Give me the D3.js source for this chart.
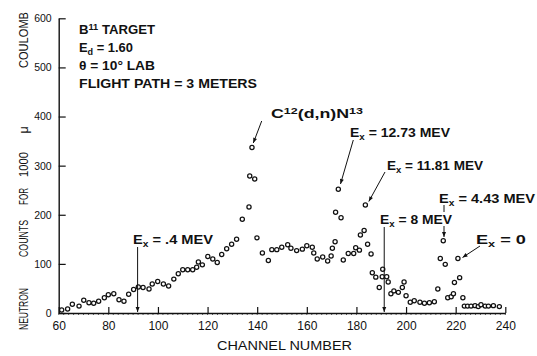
<!DOCTYPE html>
<html>
<head>
<meta charset="utf-8">
<script src="https://cdn.jsdelivr.net/npm/d3@7"></script>
<style>
  html, body { margin: 0; padding: 0; background: #fff; }
  svg { display: block; }
  text { font-family: "Liberation Sans", Arial, sans-serif; fill: #111; }
</style>
</head>
<body>
<svg id="chart" width="537" height="356"></svg>
<script>
// ---------- data ----------
const channels = [61.2,63.6,65.5,68.2,70.1,72.2,74.1,76.1,78.4,80.0,
  82.2,84.3,86.3,88.2,90.2,92.1,94.0,96.4,97.7,99.9,
  102.2,104.3,106.4,108.2,110.0,112.0,114.0,115.6,116.3,117.9,
  120.1,122.1,123.9,125.7,127.7,129.7,131.7,134.0,136.7,137.0,
  137.9,139.0,139.9,142.1,144.5,145.9,147.9,149.9,152.3,153.6,
  155.9,158.2,160.0,162.2,162.8,164.2,166.4,168.4,169.8,170.3,
  171.4,171.6,172.7,173.8,174.7,176.7,178.9,179.7,181.2,181.6,
  183.1,183.6,184.5,185.9,186.4,187.8,189.2,190.4,190.6,192.2,
  192.8,193.9,195.1,196.9,198.5,199.2,200.0,201.7,203.3,205.6,
  207.4,209.4,211.4,212.8,213.8,215.0,215.8,216.8,218.2,219.1,
  219.5,220.9,221.6,222.9,223.5,224.8,226.2,227.8,229.1,230.2,
  231.9,233.2,235.2,237.6];
const counts = [6,8,18,14,26,21,20,24,31,37,
  39,27,24,38,48,53,52,49,59,64,
  59,55,69,80,88,88,88,93,104,98,
  115,110,103,119,131,140,150,191,216,279,
  337,273,153,122,107,129,129,134,139,132,
  127,130,137,134,122,110,114,106,116,132,
  145,205,252,194,108,121,121,133,128,159,
  168,220,140,120,82,73,52,74,89,74,
  63,39,45,42,52,63,35,22,25,22,
  20,21,23,49,111,147,99,31,33,39,
  62,111,72,31,14,14,14,15,13,17,
  14,14,15,13];
const xTicks = [60,80,100,120,140,160,180,200,220,240];
const yTicks = [0,100,200,300,400,500,600];
const xTitle = "CHANNEL NUMBER";
const yTitleWords = ["NEUTRON","COUNTS","FOR","1000","\u03BC","COULOMB"];

// ---------- layout ----------
const svg = d3.select("#chart");
svg.append("rect").attr("width",537).attr("height",356).attr("fill","#fff");

const x = d3.scaleLinear().domain([60,240]).range([58.7,505.3]);
const y = d3.scaleLinear().domain([0,600]).range([313,18.3]);

// minor ticks on x axis
svg.append("g").selectAll("line").data(d3.range(60,241,2)).join("line")
  .attr("x1",d=>x(d)).attr("x2",d=>x(d)).attr("y1",y(0)).attr("y2",y(0)+2)
  .attr("stroke","#222").attr("stroke-width",0.7);

const gx = svg.append("g").attr("transform",`translate(0,${y(0)})`)
  .call(d3.axisBottom(x).tickValues(xTicks).tickSizeInner(-6).tickSizeOuter(0).tickPadding(8));
gx.select(".domain").attr("stroke","#111").attr("stroke-width",1.6);
gx.selectAll(".tick line").attr("stroke","#111").attr("stroke-width",1.2);
gx.selectAll(".tick text").attr("font-size",12).attr("font-family","Liberation Sans, Arial, sans-serif").attr("fill","#111");

const gy = svg.append("g").attr("transform",`translate(${x(60)},0)`)
  .call(d3.axisLeft(y).tickValues(yTicks).tickSizeInner(-7).tickSizeOuter(0).tickPadding(7));
gy.select(".domain").attr("stroke","#111").attr("stroke-width",1.4);
gy.selectAll(".tick line").attr("stroke","#111").attr("stroke-width",1.2);
gy.selectAll(".tick text").attr("font-size",10.5).attr("font-family","Liberation Sans, Arial, sans-serif").attr("fill","#111");

// axis titles
svg.append("text").attr("x",284.5).attr("y",350).attr("text-anchor","middle")
  .attr("font-size",12).attr("textLength",135).attr("lengthAdjust","spacingAndGlyphs")
  .text(xTitle);

const yWordPos = [[309,42],[238.5,37],[196.5,17],[164.5,25],[130,7],[40,56]];
yTitleWords.forEach((w,i)=>{
  const [cy,len] = yWordPos[i];
  const t = svg.append("text").attr("transform",`translate(27.5,${cy}) rotate(-90)`)
    .attr("text-anchor","middle").attr("font-size",12.5).text(w);
  if (w.length>1) t.attr("textLength",len).attr("lengthAdjust","spacingAndGlyphs");
});

// data points
svg.append("g").selectAll("circle").data(channels.map((c,i)=>[c,counts[i]])).join("circle")
  .attr("cx",d=>x(d[0])).attr("cy",d=>y(d[1])).attr("r",2.1)
  .attr("fill","#fff").attr("stroke","#111").attr("stroke-width",1.25);

// ---------- annotations ----------
function label(px,py,parts,len,fs){
  const t = svg.append("text").attr("x",px).attr("y",py).attr("font-size",fs||12.5)
    .attr("font-weight","bold");
  let shift = 0;
  parts.forEach(p=>{
    const [s,kind] = Array.isArray(p)?p:[p,"n"];
    let target = kind==="sup"?-4.5:kind==="sub"?3:0;
    const ts = t.append("tspan").attr("dy",target-shift).text(s);
    if (kind!=="n") ts.attr("font-size",(fs||12.5)*0.7);
    shift = target;
  });
  if (len) t.attr("textLength",len).attr("lengthAdjust","spacingAndGlyphs");
  return t;
}
label(79,34,["B",["11","sup"]," TARGET"],76);
label(79,52,["E",["d","sub"]," = 1.60"],54);
label(79,70,["\u03B8 = 10\u00B0 LAB"],76);
label(79,87.5,["FLIGHT PATH = 3 METERS"],178);
label(271,118,["C",["12","sup"],"(d,n)N",["13","sup"]],92);
label(350,137,["E",["x","sub"]," = 12.73 MEV"],100);
label(387,170,["E",["x","sub"]," = 11.81 MEV"],96);
label(380,224,["E",["x","sub"]," = 8 MEV"],72);
label(439,203,["E",["x","sub"]," = 4.43 MEV"],96);
label(476,244,["E",["x","sub"]," = 0"],50);
label(133,243.5,["E",["x","sub"]," = .4 MEV"],80);

// arrows
const defs = svg.append("defs");
defs.append("marker").attr("id","ah").attr("viewBox","0 0 10 10").attr("refX",10).attr("refY",5)
  .attr("markerWidth",7).attr("markerHeight",5).attr("orient","auto").attr("markerUnits","userSpaceOnUse")
  .append("path").attr("d","M0,1 L10,5 L0,9 Z").attr("fill","#111");
function arrow(x1,y1,x2,y2,head=true){
  const l = svg.append("line").attr("x1",x1).attr("y1",y1).attr("x2",x2).attr("y2",y2)
    .attr("stroke","#111").attr("stroke-width",1);
  if (head) l.attr("marker-end","url(#ah)");
}
arrow(261.7,121,253.3,143);        // C12
arrow(353.3,140,340.5,184);        // 12.73
arrow(385,172,368.8,201.5);        // 11.81
arrow(x(91.8),247,x(91.8),312);    // .4
arrow(x(191.2),227,x(191.2),312);  // 8
arrow(444,205,444,212,false);      // 4.43 (upper piece)
arrow(444,226,444,237);            // 4.43 (lower piece)
arrow(480,246,462.5,257.5);        // 0
</script>
</body>
</html>
